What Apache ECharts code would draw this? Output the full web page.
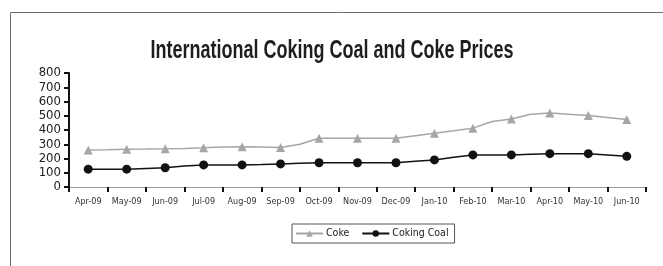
<!DOCTYPE html>
<html>
<head>
<meta charset="utf-8">
<script src="https://cdn.jsdelivr.net/npm/echarts@6/dist/echarts.min.js"></script>
<style>
  html, body { margin: 0; padding: 0; background: #fff; }
  #main { width: 663px; height: 266px; }
</style>
</head>
<body>
<div id="main"></div>
<script>
const months = ['Apr-09', 'May-09', 'Jun-09', 'Jul-09', 'Aug-09', 'Sep-09', 'Oct-09', 'Nov-09',
  'Dec-09', 'Jan-10', 'Feb-10', 'Mar-10', 'Apr-10', 'May-10', 'Jun-10'];
const yTicks = [0, 100, 200, 300, 400, 500, 600, 700, 800];

// monthly readings (marked points)
const coke = [260, 265, 268, 275, 283, 278, 342, 342, 342, 378, 413, 477, 519, 502, 474];
const cokingCoal = [125, 125, 135, 155, 155, 162, 170, 170, 170, 190, 225, 225, 234, 234, 215];
// readings between months (unmarked points)
const cokeMid = [262, 266, 271, 280, 281, 300, 342, 342, 360, 395, 460, 511, 510, 488];
const cokingCoalMid = [125, 130, 147, 155, 158, 166, 170, 170, 180, 208, 225, 230, 234, 225];

const main = document.getElementById('main');
const myChart = echarts.init(main);

function buildLine(monthly, mid) {
  const pts = [];
  monthly.forEach((v, i) => {
    pts.push({ value: [i + 0.5, v] });
    if (i < mid.length) {
      pts.push({ value: [i + 1, mid[i]], symbol: 'none' });
    }
  });
  return pts;
}

const font = 'DejaVu Sans Condensed, Liberation Sans, sans-serif';

const option = {
  animation: false,
  backgroundColor: '#fff',
  graphic: [
    {
      type: 'rect',
      shape: { x: 10.5, y: 12.5, width: 700, height: 300 },
      style: { fill: 'none', stroke: '#6f6f6f', lineWidth: 1 },
      silent: true,
    },
    {
      // title, squeezed horizontally like the narrow face of the original
      type: 'text',
      x: 332,
      y: 39,
      scaleX: 0.72,
      silent: true,
      style: {
        text: 'International Coking Coal and Coke Prices',
        textAlign: 'center',
        fontFamily: 'Liberation Sans, Arial, sans-serif',
        fontSize: 25,
        fontWeight: 'bold',
        fill: '#1e1e1e',
      },
    },
  ],
  legend: {
    left: 292,
    top: 224,
    padding: [4, 6, 4, 3],
    borderColor: '#555',
    borderWidth: 1,
    itemWidth: 27,
    itemHeight: 8,
    itemGap: 12,
    textStyle: { fontFamily: font, fontSize: 10.5, color: '#222', padding: [0, 0, 0, -2] },
    data: ['Coke', 'Coking Coal'],
  },
  grid: { left: 69, right: 17, top: 73, bottom: 79 },
  xAxis: [
    {
      type: 'category',
      data: months,
      boundaryGap: true,
      axisLine: { lineStyle: { color: '#999', width: 1 } },
      axisTick: { show: true, length: 5, lineStyle: { color: '#111', width: 2 } },
      axisLabel: { fontFamily: font, fontSize: 9, color: '#333', margin: 10, interval: 0 },
    },
    {
      type: 'value',
      min: 0,
      max: months.length,
      show: false,
    },
  ],
  yAxis: {
    type: 'value',
    min: yTicks[0],
    max: yTicks[yTicks.length - 1],
    interval: 100,
    axisLine: { show: true, lineStyle: { color: '#111', width: 2 } },
    axisTick: { show: true, length: 5, lineStyle: { color: '#111', width: 2 } },
    splitLine: { show: false },
    axisLabel: { fontFamily: font, fontSize: 13, color: '#222', margin: 8 },
  },
  series: [
    {
      name: 'Coke',
      type: 'line',
      xAxisIndex: 1,
      data: buildLine(coke, cokeMid),
      symbol: 'triangle',
      symbolSize: 9,
      showAllSymbol: true,
      color: '#a6a6a6',
      lineStyle: { color: '#a6a6a6', width: 1.5 },
      itemStyle: { color: '#a6a6a6' },
    },
    {
      name: 'Coking Coal',
      type: 'line',
      xAxisIndex: 1,
      data: buildLine(cokingCoal, cokingCoalMid),
      symbol: 'circle',
      symbolSize: 9,
      showAllSymbol: true,
      color: '#111',
      lineStyle: { color: '#111', width: 1.5 },
      itemStyle: { color: '#111' },
    },
  ],
};

myChart.setOption(option);
</script>
</body>
</html>
